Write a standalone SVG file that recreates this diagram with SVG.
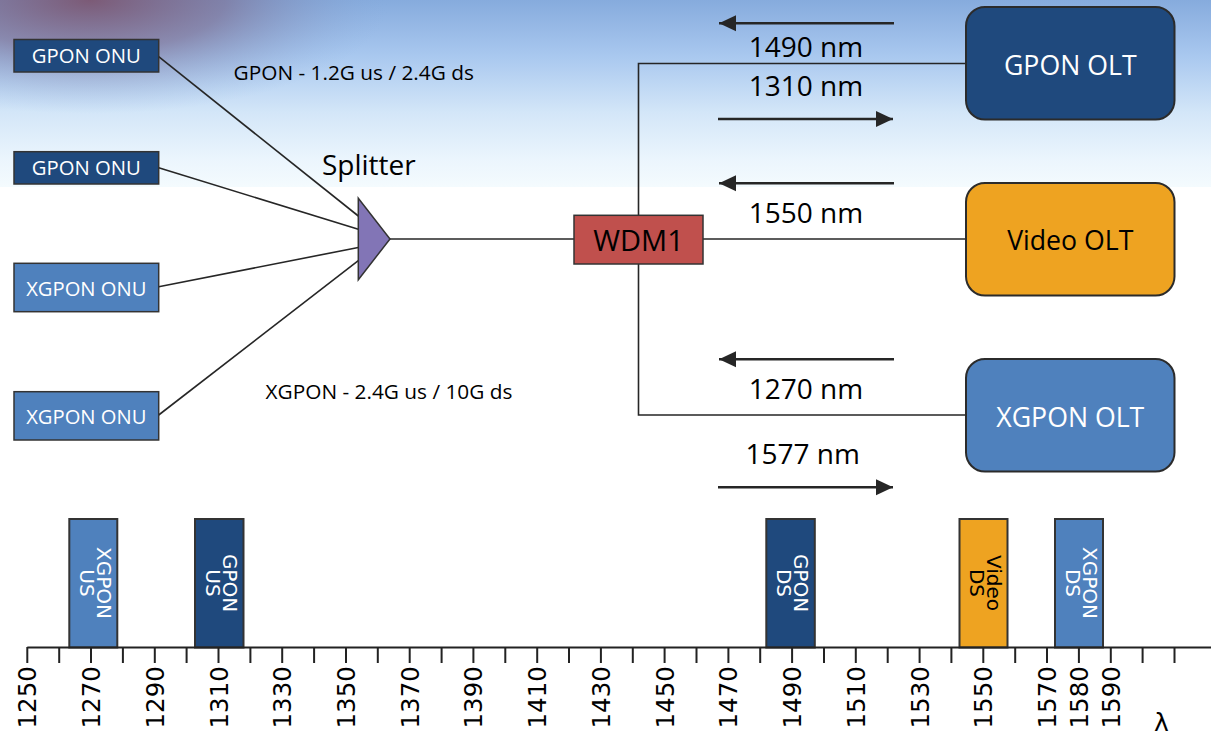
<svg xmlns="http://www.w3.org/2000/svg" width="1211" height="737" viewBox="0 0 1211 737">
<defs>
  <linearGradient id="sky" x1="0" y1="0" x2="0" y2="1">
    <stop offset="0" stop-color="#86abdd"/>
    <stop offset="0.3" stop-color="#a9c8ef"/>
    <stop offset="0.6" stop-color="#d3e6f8"/>
    <stop offset="0.85" stop-color="#ebf5fd"/>
    <stop offset="1" stop-color="#f4fbfe"/>
  </linearGradient>
  <radialGradient id="dusk" cx="90" cy="0" r="300" gradientUnits="userSpaceOnUse" gradientTransform="translate(90 0) scale(1 0.38) translate(-90 0)">
    <stop offset="0" stop-color="#7a4c64" stop-opacity="0.85"/>
    <stop offset="0.45" stop-color="#7b6688" stop-opacity="0.6"/>
    <stop offset="1" stop-color="#86abdd" stop-opacity="0"/>
  </radialGradient>
  <marker id="ah" markerUnits="userSpaceOnUse" markerWidth="18" markerHeight="18" viewBox="0 0 18 18" refX="17" refY="9" orient="auto">
    <path d="M0,1 L17,9 L0,17 Z" fill="#262626"/>
  </marker>
  <style>
    .t { font-family: "Open Sans", "Liberation Sans", sans-serif; }
    .ax { font-family: "DejaVu Sans", sans-serif; }
    .onu { stroke: #333; stroke-width: 1.5; }
    .olt { stroke: #2b2b2b; stroke-width: 2; }
    .dk { fill: #1f497d; }
    .md { fill: #4f81bd; }
    .or { fill: #eea321; }
    .wl { fill: #ffffff; }
    .bk { fill: #000000; }
    .ln { stroke: #262626; stroke-width: 1.6; fill: none; }
    .arr { stroke: #262626; stroke-width: 2.6; fill: none; marker-end: url(#ah); }
    .bar { stroke: #333; stroke-width: 2; }
    .tick { stroke: #222; stroke-width: 2; }
  </style>
</defs>

<rect x="0" y="0" width="1211" height="737" fill="#ffffff"/>
<rect x="0" y="0" width="1211" height="187" fill="url(#sky)"/>
<rect x="0" y="0" width="500" height="120" fill="url(#dusk)"/>

<g id="connectors">
  <line class="ln" x1="158.7" y1="56.7" x2="358.3" y2="216"/>
  <line class="ln" x1="158.7" y1="167.7" x2="358.3" y2="229.3"/>
  <line class="ln" x1="158.7" y1="286.7" x2="358.3" y2="247.5"/>
  <line class="ln" x1="158.7" y1="415" x2="358.3" y2="260.7"/>
  <line class="ln" x1="390" y1="239" x2="574" y2="239"/>
  <polyline class="ln" points="638.5,215.3 638.5,63.5 966,63.5"/>
  <polyline class="ln" points="638.5,264 638.5,415 966,415"/>
  <line class="ln" x1="703" y1="239" x2="966" y2="239"/>
  <line class="arr" x1="894" y1="23.3" x2="719" y2="23.3"/>
  <line class="arr" x1="718" y1="119" x2="893" y2="119"/>
  <line class="arr" x1="894" y1="183.3" x2="719" y2="183.3"/>
  <line class="arr" x1="894" y1="359.3" x2="719" y2="359.3"/>
  <line class="arr" x1="718" y1="487.3" x2="893" y2="487.3"/>
</g>

<g id="onu1">
  <rect class="onu dk" x="14" y="39.5" width="144.7" height="32.5"/>
  <text class="t wl" x="86.3" y="63.3" font-size="20.3" text-anchor="middle">GPON ONU</text>
</g>
<g id="onu2">
  <rect class="onu dk" x="14" y="151.7" width="144.7" height="32.3"/>
  <text class="t wl" x="86.3" y="175.3" font-size="20.3" text-anchor="middle">GPON ONU</text>
</g>
<g id="onu3">
  <rect class="onu md" x="14" y="263.3" width="144.7" height="48.4"/>
  <text class="t wl" x="86.3" y="295.5" font-size="20.2" text-anchor="middle">XGPON ONU</text>
</g>
<g id="onu4">
  <rect class="onu md" x="14" y="391.7" width="144.7" height="48.3"/>
  <text class="t wl" x="86.3" y="424" font-size="20.2" text-anchor="middle">XGPON ONU</text>
</g>

<g id="splitter">
  <polygon points="358.3,198.3 390,239 358.3,279.7" fill="#8275b6" stroke="#333" stroke-width="1.5"/>
  <text class="t bk" x="368.8" y="175" font-size="28" text-anchor="middle">Splitter</text>
</g>

<g id="wdm1">
  <rect x="574" y="215.3" width="129" height="48.7" fill="#c0504d" stroke="#333" stroke-width="1.5"/>
  <text class="t bk" x="638.5" y="251" font-size="29" text-anchor="middle">WDM1</text>
</g>

<g id="gpon-olt">
  <rect class="olt dk" x="966" y="7" width="208.5" height="112.5" rx="19"/>
  <text class="t wl" x="1070.3" y="74.5" font-size="26.7" text-anchor="middle">GPON OLT</text>
</g>
<g id="video-olt">
  <rect class="olt or" x="966" y="183" width="208.5" height="112.5" rx="19"/>
  <text class="t bk" x="1070.3" y="250" font-size="26.7" text-anchor="middle">Video OLT</text>
</g>
<g id="xgpon-olt">
  <rect class="olt md" x="966" y="359" width="208.5" height="112.5" rx="19"/>
  <text class="t wl" x="1070.3" y="426.5" font-size="26.7" text-anchor="middle">XGPON OLT</text>
</g>

<g id="labels">
  <text class="t bk" x="353.7" y="80" font-size="20.8" text-anchor="middle">GPON - 1.2G us / 2.4G ds</text>
  <text class="t bk" x="389" y="398.5" font-size="20.8" text-anchor="middle">XGPON - 2.4G us / 10G ds</text>
  <text class="t bk" x="806" y="56.5" font-size="28" text-anchor="middle">1490 nm</text>
  <text class="t bk" x="806" y="96" font-size="28" text-anchor="middle">1310 nm</text>
  <text class="t bk" x="806" y="222.5" font-size="28" text-anchor="middle">1550 nm</text>
  <text class="t bk" x="806" y="399.3" font-size="28" text-anchor="middle">1270 nm</text>
  <text class="t bk" x="802.7" y="464.3" font-size="28" text-anchor="middle">1577 nm</text>
</g>

<g id="spectrum">
  <g id="band-xgpon-us">
    <rect class="bar md" x="69.3" y="519" width="48" height="128.5"/>
    <text class="ax wl" font-size="20" text-anchor="middle" transform="translate(97 583) rotate(90)">XGPON</text>
    <text class="ax wl" font-size="20" text-anchor="middle" transform="translate(80 583) rotate(90)">US</text>
  </g>
  <g id="band-gpon-us">
    <rect class="bar dk" x="195" y="519" width="48.5" height="128.5"/>
    <text class="ax wl" font-size="20" text-anchor="middle" transform="translate(223 583) rotate(90)">GPON</text>
    <text class="ax wl" font-size="20" text-anchor="middle" transform="translate(206 583) rotate(90)">US</text>
  </g>
  <g id="band-gpon-ds">
    <rect class="bar dk" x="766.3" y="519" width="48.5" height="128.5"/>
    <text class="ax wl" font-size="20" text-anchor="middle" transform="translate(794.3 583) rotate(90)">GPON</text>
    <text class="ax wl" font-size="20" text-anchor="middle" transform="translate(777.3 583) rotate(90)">DS</text>
  </g>
  <g id="band-video-ds">
    <rect class="bar or" x="959.5" y="519" width="48" height="128.5"/>
    <text class="ax bk" font-size="20" text-anchor="middle" transform="translate(987 583) rotate(90)">Video</text>
    <text class="ax bk" font-size="20" text-anchor="middle" transform="translate(970 583) rotate(90)">DS</text>
  </g>
  <g id="band-xgpon-ds">
    <rect class="bar md" x="1055" y="519" width="48" height="128.5"/>
    <text class="ax wl" font-size="20" text-anchor="middle" transform="translate(1082.5 583) rotate(90)">XGPON</text>
    <text class="ax wl" font-size="20" text-anchor="middle" transform="translate(1065.5 583) rotate(90)">DS</text>
  </g>

  <g id="axis">
    <line class="tick" x1="27.3" y1="647.5" x2="1211" y2="647.5"/>
    <path class="tick" d="M27.3,647V663 M59.2,647V663 M91,647V663 M122.9,647V663 M154.8,647V663 M186.6,647V663 M218.5,647V663 M250.4,647V663 M282.2,647V663 M314.1,647V663 M346,647V663 M377.8,647V663 M409.7,647V663 M441.6,647V663 M473.4,647V663 M505.3,647V663 M537.2,647V663 M569,647V663 M600.9,647V663 M632.8,647V663 M664.6,647V663 M696.5,647V663 M728.4,647V663 M760.2,647V663 M792.1,647V663 M824,647V663 M855.8,647V663 M887.7,647V663 M919.6,647V663 M951.4,647V663 M983.3,647V663 M1015.2,647V663 M1047,647V663 M1078.9,647V663 M1110.8,647V663 M1142.6,647V663 M1174.5,647V663"/>
    <g class="ax bk" font-size="24.5">
      <text transform="translate(36.3 728.5) rotate(-90)">1250</text>
      <text transform="translate(100 728.5) rotate(-90)">1270</text>
      <text transform="translate(163.8 728.5) rotate(-90)">1290</text>
      <text transform="translate(227.5 728.5) rotate(-90)">1310</text>
      <text transform="translate(291.2 728.5) rotate(-90)">1330</text>
      <text transform="translate(355 728.5) rotate(-90)">1350</text>
      <text transform="translate(418.7 728.5) rotate(-90)">1370</text>
      <text transform="translate(482.4 728.5) rotate(-90)">1390</text>
      <text transform="translate(546.2 728.5) rotate(-90)">1410</text>
      <text transform="translate(609.9 728.5) rotate(-90)">1430</text>
      <text transform="translate(673.6 728.5) rotate(-90)">1450</text>
      <text transform="translate(737.4 728.5) rotate(-90)">1470</text>
      <text transform="translate(801.1 728.5) rotate(-90)">1490</text>
      <text transform="translate(864.8 728.5) rotate(-90)">1510</text>
      <text transform="translate(928.6 728.5) rotate(-90)">1530</text>
      <text transform="translate(992.3 728.5) rotate(-90)">1550</text>
      <text transform="translate(1056 728.5) rotate(-90)">1570</text>
      <text transform="translate(1087.9 728.5) rotate(-90)">1580</text>
      <text transform="translate(1119.8 728.5) rotate(-90)">1590</text>
    </g>
    <text class="ax bk" x="1161.5" y="731" font-size="25" text-anchor="middle">λ</text>
  </g>
</g>
</svg>
